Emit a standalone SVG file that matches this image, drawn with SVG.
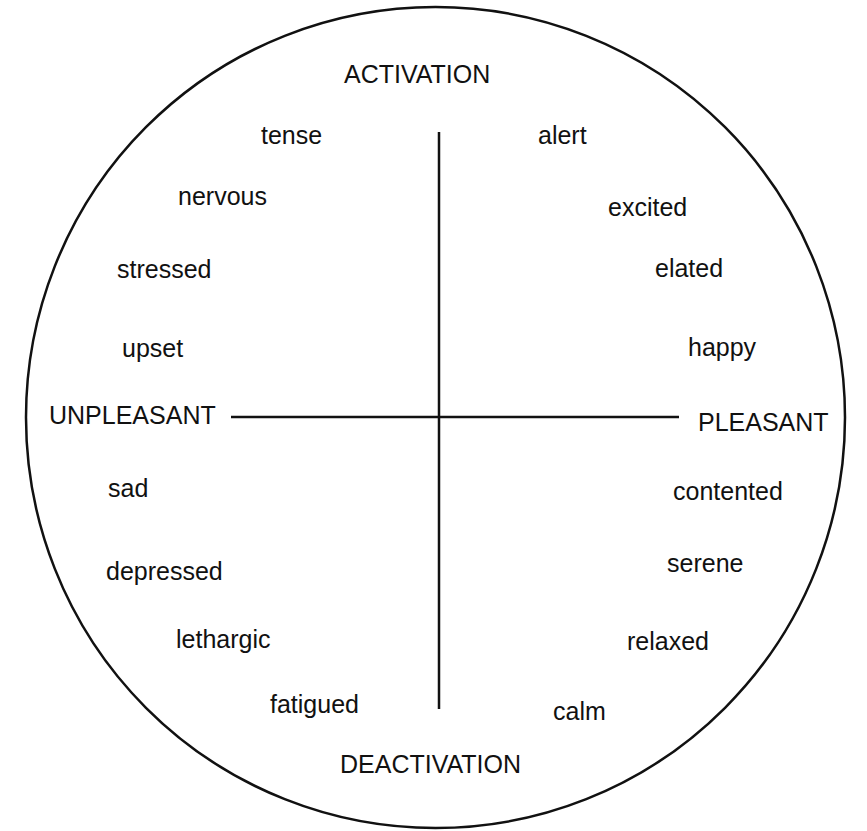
<svg xmlns="http://www.w3.org/2000/svg" width="867" height="831" viewBox="0 0 867 831">
<style>
text{font-family:"Liberation Sans",Arial,sans-serif;font-size:25px;fill:#111}
.ln{stroke:#111;stroke-width:2.5;fill:none}
</style>
<rect width="867" height="831" fill="#fff"/>
<g id="boundary"><ellipse class="ln" cx="435.5" cy="417.5" rx="409.5" ry="410.5"/></g>
<g id="connectors">
<line class="ln" x1="231" y1="417" x2="679" y2="417"/>
<line class="ln" x1="439" y1="132" x2="439" y2="709"/>
</g>
<g id="activation"><text x="344" y="83">ACTIVATION</text></g>
<g id="deactivation"><text x="340" y="773">DEACTIVATION</text></g>
<g id="unpleasant"><text x="49" y="424">UNPLEASANT</text></g>
<g id="pleasant"><text x="698" y="431">PLEASANT</text></g>
<g id="tense"><text x="261" y="144">tense</text></g>
<g id="alert"><text x="538" y="144">alert</text></g>
<g id="nervous"><text x="178" y="205">nervous</text></g>
<g id="excited"><text x="608" y="216">excited</text></g>
<g id="stressed"><text x="117" y="278">stressed</text></g>
<g id="elated"><text x="655" y="277">elated</text></g>
<g id="upset"><text x="122" y="357">upset</text></g>
<g id="happy"><text x="688" y="356">happy</text></g>
<g id="sad"><text x="108" y="497">sad</text></g>
<g id="contented"><text x="673" y="500">contented</text></g>
<g id="depressed"><text x="106" y="580">depressed</text></g>
<g id="serene"><text x="667" y="572">serene</text></g>
<g id="lethargic"><text x="176" y="648">lethargic</text></g>
<g id="relaxed"><text x="627" y="650">relaxed</text></g>
<g id="fatigued"><text x="270" y="713">fatigued</text></g>
<g id="calm"><text x="553" y="720">calm</text></g>
</svg>
